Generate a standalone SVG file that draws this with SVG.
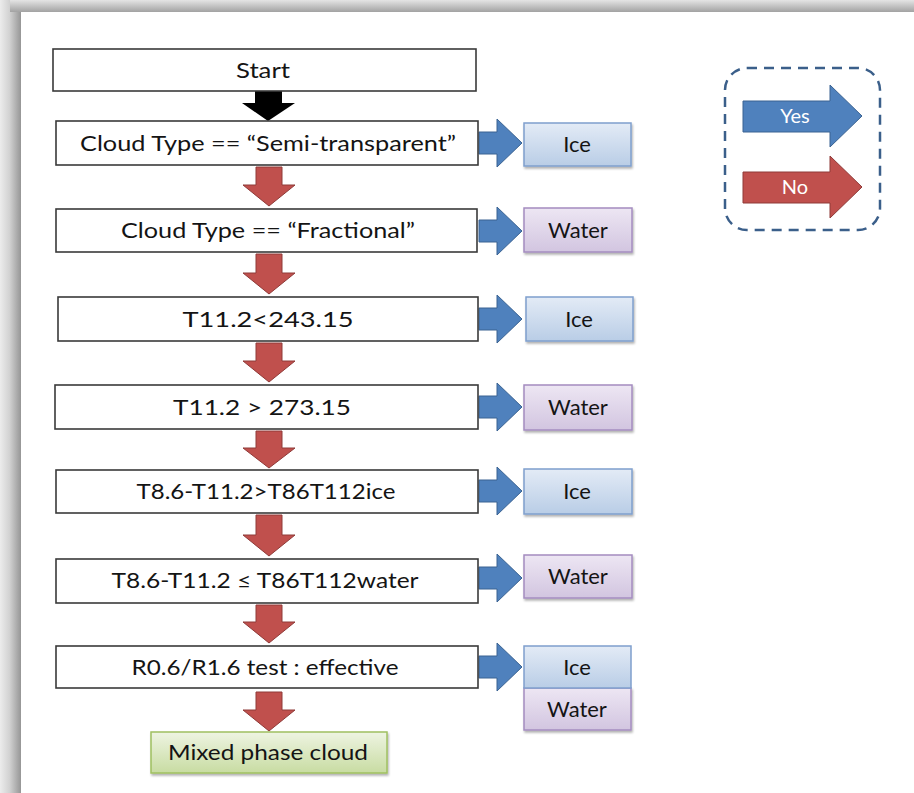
<svg xmlns="http://www.w3.org/2000/svg" width="914" height="793" viewBox="0 0 914 793">
  <defs>
    <linearGradient id="edgeLeft" x1="0" y1="0" x2="1" y2="0">
      <stop offset="0" stop-color="#ececec"/>
      <stop offset="0.45" stop-color="#d2d2d2"/>
      <stop offset="1" stop-color="#969696"/>
    </linearGradient>
    <linearGradient id="edgeTop" x1="0" y1="0" x2="0" y2="1">
      <stop offset="0" stop-color="#e4e4e4"/>
      <stop offset="1" stop-color="#a2a2a2"/>
    </linearGradient>
    <linearGradient id="iceFill" x1="0" y1="0" x2="0" y2="1">
      <stop offset="0" stop-color="#e3ebf6"/>
      <stop offset="1" stop-color="#b9cde6"/>
    </linearGradient>
    <linearGradient id="waterFill" x1="0" y1="0" x2="0" y2="1">
      <stop offset="0" stop-color="#ede6f3"/>
      <stop offset="1" stop-color="#d2c5e0"/>
    </linearGradient>
    <linearGradient id="mixedFill" x1="0" y1="0" x2="0" y2="1">
      <stop offset="0" stop-color="#eef4e2"/>
      <stop offset="1" stop-color="#c8dca2"/>
    </linearGradient>
    <filter id="shadow" x="-10%" y="-10%" width="125%" height="140%">
      <feDropShadow dx="1" dy="2" stdDeviation="1.2" flood-color="#000" flood-opacity="0.3"/>
    </filter>
  </defs>
  <style>
    .label { font-family: "Lato", "Liberation Sans", sans-serif; font-size: 22px; fill: #141414; text-anchor: middle; }
    .legend { font-family: "Lato", "Liberation Sans", sans-serif; font-size: 20px; fill: #ffffff; text-anchor: middle; }
    .test { fill: #ffffff; stroke: #3a3a3a; stroke-width: 1.6; }
    .ice { fill: url(#iceFill); stroke: #7f9fcd; stroke-width: 1.5; }
    .water { fill: url(#waterFill); stroke: #a48cc0; stroke-width: 1.5; }
    .mixed { fill: url(#mixedFill); stroke: #9fc060; stroke-width: 1.5; }
    .yes { fill: #4f81bd; stroke: #3b6392; stroke-width: 1; }
    .no { fill: #c0504d; stroke: #8f3a38; stroke-width: 1; }
    .start { fill: #000000; }
  </style>

  <!-- page frame with soft edge shading -->
  <rect x="0" y="0" width="914" height="793" fill="#ffffff"/>
  <rect x="0" y="0" width="21" height="793" fill="url(#edgeLeft)"/>
  <rect x="10" y="0" width="904" height="12" fill="url(#edgeTop)"/>
  <rect x="21" y="12" width="893" height="781" fill="#ffffff"/>

  <!-- connectors -->
  <g id="connectors">
    <!-- start arrow -->
    <polygon class="start" points="255,91 282,91 282,103 295,103 268,121 242,103 255,103"/>
    <!-- "no" arrows down the chain -->
    <polygon class="no" points="256,167 282,167 282,185 295,185 269,206 243,185 256,185"/>
    <polygon class="no" points="256,254 282,254 282,273 295,273 269,294 243,273 256,273"/>
    <polygon class="no" points="256,343 282,343 282,361 295,361 269,382 243,361 256,361"/>
    <polygon class="no" points="256,431 282,431 282,448 295,448 269,468 243,448 256,448"/>
    <polygon class="no" points="256,515 282,515 282,535 295,535 269,556 243,535 256,535"/>
    <polygon class="no" points="256,605 282,605 282,622 295,622 269,643 243,622 256,622"/>
    <polygon class="no" points="256,692 282,692 282,710 295,710 269,731 243,710 256,710"/>
    <!-- "yes" arrows to the phase results -->
    <polygon class="yes" points="479,132 497,132 497,119 522,143 497,167 497,154 479,154"/>
    <polygon class="yes" points="479,220 497,220 497,207 522,231 497,255 497,242 479,242"/>
    <polygon class="yes" points="479,308 497,308 497,295 522,319 497,343 497,330 479,330"/>
    <polygon class="yes" points="479,396 497,396 497,383 522,407 497,431 497,418 479,418"/>
    <polygon class="yes" points="479,480 497,480 497,467 522,491 497,515 497,502 479,502"/>
    <polygon class="yes" points="479,567 497,567 497,554 522,578 497,602 497,589 479,589"/>
    <polygon class="yes" points="479,656 497,656 497,643 522,667 497,691 497,678 479,678"/>
  </g>

  <!-- decision chain -->
  <g id="start">
    <rect class="test" x="53" y="49" width="423" height="42"/>
    <text class="label" x="263" y="78" textLength="54" lengthAdjust="spacingAndGlyphs">Start</text>
  </g>
  <g id="semi-transparent">
    <rect class="test" x="56" y="121" width="422" height="44"/>
    <text class="label" x="268" y="151" textLength="376" lengthAdjust="spacingAndGlyphs">Cloud Type == “Semi-transparent”</text>
  </g>
  <g id="fractional">
    <rect class="test" x="56" y="209" width="421" height="43"/>
    <text class="label" x="268" y="238" textLength="294" lengthAdjust="spacingAndGlyphs">Cloud Type == “Fractional”</text>
  </g>
  <g id="t112-cold">
    <rect class="test" x="58" y="297" width="420" height="44"/>
    <text class="label" x="268" y="327" textLength="171" lengthAdjust="spacingAndGlyphs">T11.2&lt;243.15</text>
  </g>
  <g id="t112-warm">
    <rect class="test" x="55" y="385" width="423" height="44"/>
    <text class="label" x="262" y="415" textLength="178" lengthAdjust="spacingAndGlyphs">T11.2 &gt; 273.15</text>
  </g>
  <g id="btd-ice">
    <rect class="test" x="56" y="470" width="422" height="43"/>
    <text class="label" x="266" y="499" textLength="259" lengthAdjust="spacingAndGlyphs">T8.6-T11.2&gt;T86T112ice</text>
  </g>
  <g id="btd-water">
    <rect class="test" x="56" y="559" width="422" height="44"/>
    <text class="label" x="265" y="588" textLength="307" lengthAdjust="spacingAndGlyphs">T8.6-T11.2 ≤ T86T112water</text>
  </g>
  <g id="ratio-test">
    <rect class="test" x="56" y="646" width="422" height="42"/>
    <text class="label" x="265" y="675" textLength="267" lengthAdjust="spacingAndGlyphs">R0.6/R1.6 test : effective</text>
  </g>
  <g id="mixed-phase">
    <rect class="mixed" x="151" y="732" width="236" height="41" filter="url(#shadow)"/>
    <text class="label" x="268" y="760" textLength="200" lengthAdjust="spacingAndGlyphs">Mixed phase cloud</text>
  </g>

  <!-- phase results -->
  <g id="ice-1">
    <rect class="ice" x="524" y="123" width="107" height="43" filter="url(#shadow)"/>
    <text class="label" x="577" y="152">Ice</text>
  </g>
  <g id="water-1">
    <rect class="water" x="524" y="208" width="108" height="44" filter="url(#shadow)"/>
    <text class="label" x="578" y="238">Water</text>
  </g>
  <g id="ice-2">
    <rect class="ice" x="526" y="297" width="107" height="44" filter="url(#shadow)"/>
    <text class="label" x="579" y="327">Ice</text>
  </g>
  <g id="water-2">
    <rect class="water" x="524" y="385" width="108" height="45" filter="url(#shadow)"/>
    <text class="label" x="578" y="415">Water</text>
  </g>
  <g id="ice-3">
    <rect class="ice" x="524" y="469" width="108" height="45" filter="url(#shadow)"/>
    <text class="label" x="577" y="499">Ice</text>
  </g>
  <g id="water-3">
    <rect class="water" x="524" y="555" width="108" height="43" filter="url(#shadow)"/>
    <text class="label" x="578" y="584">Water</text>
  </g>
  <g id="ice-water">
    <rect class="water" x="524" y="688" width="107" height="42" filter="url(#shadow)"/>
    <rect class="ice" x="524" y="646" width="107" height="42"/>
    <text class="label" x="577" y="675">Ice</text>
    <text class="label" x="577" y="717">Water</text>
  </g>

  <!-- legend -->
  <g id="legend">
    <rect x="725" y="68" width="155" height="162" rx="22" ry="22" fill="none" stroke="#3b5f8a" stroke-width="2.5" stroke-dasharray="10 7"/>
    <polygon class="yes" points="743,101 830,101 830,85 862,116 830,147 830,132 743,132"/>
    <text class="legend" x="795" y="123">Yes</text>
    <polygon class="no" points="743,172 830,172 830,156 862,187 830,218 830,203 743,203"/>
    <text class="legend" x="795" y="194">No</text>
  </g>
</svg>
